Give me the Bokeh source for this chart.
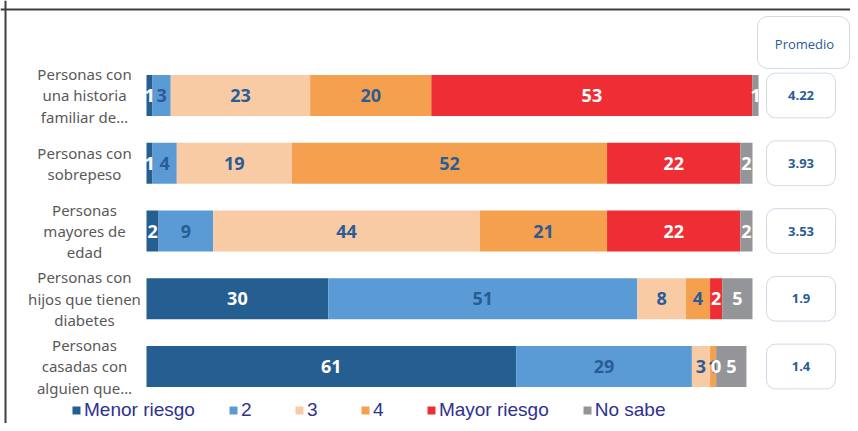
from bokeh.plotting import figure
from bokeh.models import (ColumnDataSource, Range1d, Legend, LegendItem,
                          BoxAnnotation, Span)
from bokeh.core.properties import value
from bokeh.embed import file_html
from bokeh.resources import INLINE

# ---------------- data ----------------
categories = [
    "Personas con\nuna historia\nfamiliar de\u2026",
    "Personas con\nsobrepeso",
    "Personas\nmayores de\nedad",
    "Personas con\nhijos que tienen\ndiabetes",
    "Personas\ncasadas con\nalguien que\u2026",
]
menor_riesgo = [1, 1, 2, 30, 61]
riesgo_2 = [3, 4, 9, 51, 29]
riesgo_3 = [23, 19, 44, 8, 3]
riesgo_4 = [20, 52, 21, 4, 1]
mayor_riesgo = [53, 22, 22, 2, 0]
no_sabe = [1, 2, 2, 5, 5]
promedio = [4.22, 3.93, 3.53, 1.9, 1.4]

series_keys = ["menor", "r2", "r3", "r4", "mayor", "nosabe"]
series_labels = ["Menor riesgo", "2", "3", "4", "Mayor riesgo", "No sabe"]
series_values = [menor_riesgo, riesgo_2, riesgo_3, riesgo_4, mayor_riesgo, no_sabe]
colors = ["#255E91", "#5B9BD5", "#F8CBA5", "#F4A04F", "#EE2D34", "#939598"]
label_colors = ["white", "#2A5C96", "#2A5C96", "#2A5C96", "white", "white"]

W, H = 850, 423
PX_PER_UNIT = 6.06
ROW_PX = 67.75
x0_px = 146.0   # pixel where 0% sits
y0_px = 95.0    # pixel of first row centre


def xd(px):
    return (px - x0_px) / PX_PER_UNIT


def yd(px):
    return (px - y0_px) / ROW_PX


p = figure(width=W, height=H, output_backend="svg", toolbar_location=None,
           x_range=Range1d(xd(0), xd(W)),
           y_range=Range1d(yd(H), yd(0)),
           x_axis_location=None, y_axis_location=None, min_border=0)
p.grid.visible = False
p.outline_line_color = None
p.background_fill_color = "white"

rows = list(range(len(categories)))
data = {"y": rows}
for k, v in zip(series_keys, series_values):
    data[k] = v
source = ColumnDataSource(data)

renderers = p.hbar_stack(series_keys, y="y", height=0.605, color=colors,
                         line_color=None, source=source)

# segment labels
lx, ly, lt, lc = [], [], [], []
for i in rows:
    left = 0
    for j, v in enumerate(series_values):
        val = v[i]
        lx.append(left + val / 2)
        ly.append(i)
        lt.append(str(val))
        lc.append(label_colors[j])
        left += val
p.text(x=lx, y=ly, text=lt, text_color=lc, text_align="center",
       text_baseline="middle", text_font=value("Open Sans"),
       text_font_style="bold", text_font_size="18px")

# category labels
p.text(x=[xd(84)] * len(rows), y=rows, text=categories, text_color="#595959",
       text_align="center", text_baseline="middle", text_font=value("Noto Sans"),
       text_font_size="15px", text_line_height=1.07)

# promedio boxes
bx_l, bx_r = xd(766), xd(835)
for i in rows:
    p.add_layout(BoxAnnotation(left=bx_l, right=bx_r, bottom=i - 0.33, top=i + 0.33,
                               fill_color="white", fill_alpha=1,
                               line_color="#6383A8", line_width=1,
                               border_radius=9, level="underlay"))
p.text(x=[(bx_l + bx_r) / 2] * len(rows), y=rows, text=[str(v) for v in promedio],
       text_color="#2A5C96", text_align="center", text_baseline="middle",
       text_font=value("Open Sans"), text_font_style="bold", text_font_size="13px")

hx_l, hx_r = xd(757), xd(849)
hy_t, hy_b = yd(16), yd(68)
p.add_layout(BoxAnnotation(left=hx_l, right=hx_r, bottom=hy_b, top=hy_t,
                           fill_color="white", fill_alpha=1,
                           line_color="#6383A8", line_width=1,
                           border_radius=10, level="underlay"))
p.text(x=[xd(804)], y=[yd(43)], text=["Promedio"],
       text_color="#2A5C96", text_align="center", text_baseline="middle",
       text_font=value("Open Sans"), text_font_size="13px")

# frame lines (left & top)
p.add_layout(Span(location=xd(5), dimension="height",
                  line_color="#404040", line_width=2))
p.add_layout(Span(location=yd(9), dimension="width",
                  line_color="#404040", line_width=2))

legend = Legend(items=[LegendItem(label=l, renderers=[r])
                       for l, r in zip(series_labels, renderers)],
                orientation="horizontal", location=(71, 2),
                glyph_width=10, glyph_height=10, label_standoff=3, spacing=33,
                padding=0, margin=0, border_line_color=None,
                background_fill_alpha=0,
                label_text_font="Liberation Sans", label_text_font_size="19px",
                label_text_color="#2E3192", label_height=20)
p.add_layout(legend)

open("out.html", "w").write(file_html(p, INLINE))
